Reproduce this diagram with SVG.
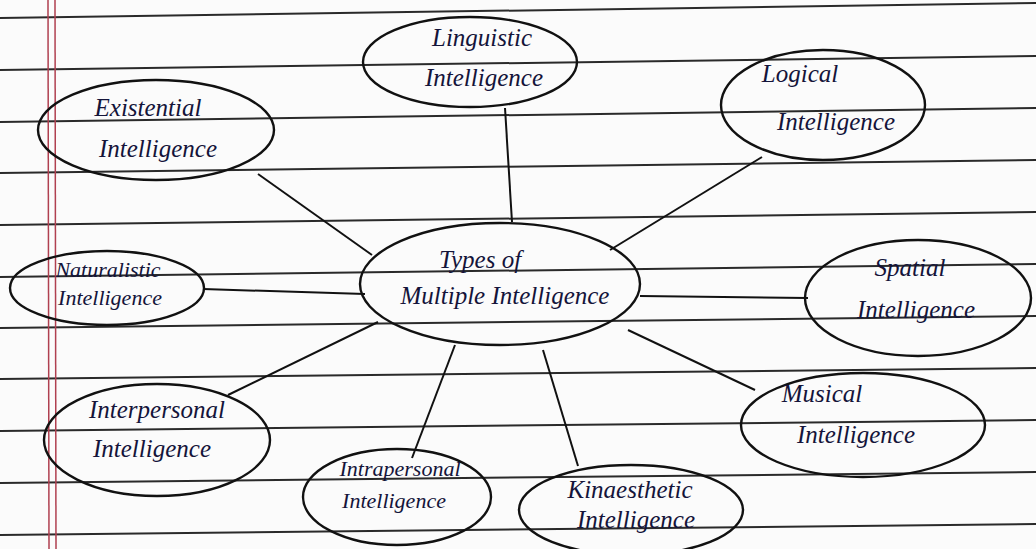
<svg xmlns="http://www.w3.org/2000/svg" width="1036" height="549" viewBox="0 0 1036 549">
<style>
.rule{stroke:#2a2a2a;stroke-width:2;fill:none}
.margin{stroke:#b04050;stroke-width:1.5;fill:none}
.node ellipse{fill:none;stroke:#111;stroke-width:2.4}
.node text{font-family:"Liberation Serif",serif;font-style:italic;font-size:25px;fill:#14143a;text-anchor:middle}
.node text.sm{font-size:22px}
#connectors line{stroke:#111;stroke-width:2}
</style>
<rect width="1036" height="549" fill="#fbfbfb"/>
<g id="paper">
<line class="rule" x1="0" y1="18" x2="1036" y2="3"/>
<line class="rule" x1="0" y1="70" x2="1036" y2="56"/>
<line class="rule" x1="0" y1="122" x2="1036" y2="108"/>
<line class="rule" x1="0" y1="173" x2="1036" y2="160"/>
<line class="rule" x1="0" y1="225" x2="1036" y2="212"/>
<line class="rule" x1="0" y1="277" x2="1036" y2="264"/>
<line class="rule" x1="0" y1="328" x2="1036" y2="316"/>
<line class="rule" x1="0" y1="379" x2="1036" y2="368"/>
<line class="rule" x1="0" y1="431" x2="1036" y2="420"/>
<line class="rule" x1="0" y1="483" x2="1036" y2="472"/>
<line class="rule" x1="0" y1="535" x2="1036" y2="524"/>
<line class="margin" x1="48" y1="0" x2="49" y2="549"/>
<line class="margin" x1="55" y1="0" x2="56" y2="549"/>
</g>
<g id="connectors">
<line x1="512" y1="222" x2="505" y2="108"/>
<line x1="610" y1="250" x2="762" y2="157"/>
<line x1="372" y1="255" x2="258" y2="174"/>
<line x1="365" y1="294" x2="203" y2="289"/>
<line x1="640" y1="296" x2="808" y2="298"/>
<line x1="628" y1="330" x2="755" y2="390"/>
<line x1="378" y1="322" x2="228" y2="395"/>
<line x1="455" y1="345" x2="412" y2="458"/>
<line x1="543" y1="350" x2="578" y2="466"/>
</g>
<g id="center" class="node">
<ellipse cx="500" cy="284" rx="140" ry="61"/>
<text x="480" y="268">Types of</text>
<text x="505" y="304">Multiple Intelligence</text>
</g>
<g id="linguistic" class="node">
<ellipse cx="470" cy="62" rx="107" ry="45"/>
<text x="482" y="46">Linguistic</text>
<text x="484" y="86">Intelligence</text>
</g>
<g id="logical" class="node">
<ellipse cx="823" cy="105" rx="102" ry="55"/>
<text x="800" y="82">Logical</text>
<text x="836" y="130">Intelligence</text>
</g>
<g id="existential" class="node">
<ellipse cx="156" cy="130" rx="118" ry="50"/>
<text x="148" y="116">Existential</text>
<text x="158" y="157">Intelligence</text>
</g>
<g id="naturalistic" class="node">
<ellipse cx="107" cy="288" rx="97" ry="37"/>
<text class="sm" x="108" y="277">Naturalistic</text>
<text class="sm" x="110" y="305">Intelligence</text>
</g>
<g id="spatial" class="node">
<ellipse cx="918" cy="298" rx="113" ry="58"/>
<text x="910" y="276">Spatial</text>
<text x="916" y="318">Intelligence</text>
</g>
<g id="musical" class="node">
<ellipse cx="863" cy="425" rx="122" ry="52"/>
<text x="822" y="402">Musical</text>
<text x="856" y="443">Intelligence</text>
</g>
<g id="interpersonal" class="node">
<ellipse cx="157" cy="440" rx="113" ry="56"/>
<text x="157" y="418">Interpersonal</text>
<text x="152" y="457">Intelligence</text>
</g>
<g id="intrapersonal" class="node">
<ellipse cx="397" cy="497" rx="94" ry="48"/>
<text class="sm" x="400" y="476">Intrapersonal</text>
<text class="sm" x="394" y="508">Intelligence</text>
</g>
<g id="kinaesthetic" class="node">
<ellipse cx="631" cy="510" rx="112" ry="45"/>
<text x="630" y="498">Kinaesthetic</text>
<text x="636" y="528">Intelligence</text>
</g>
</svg>
